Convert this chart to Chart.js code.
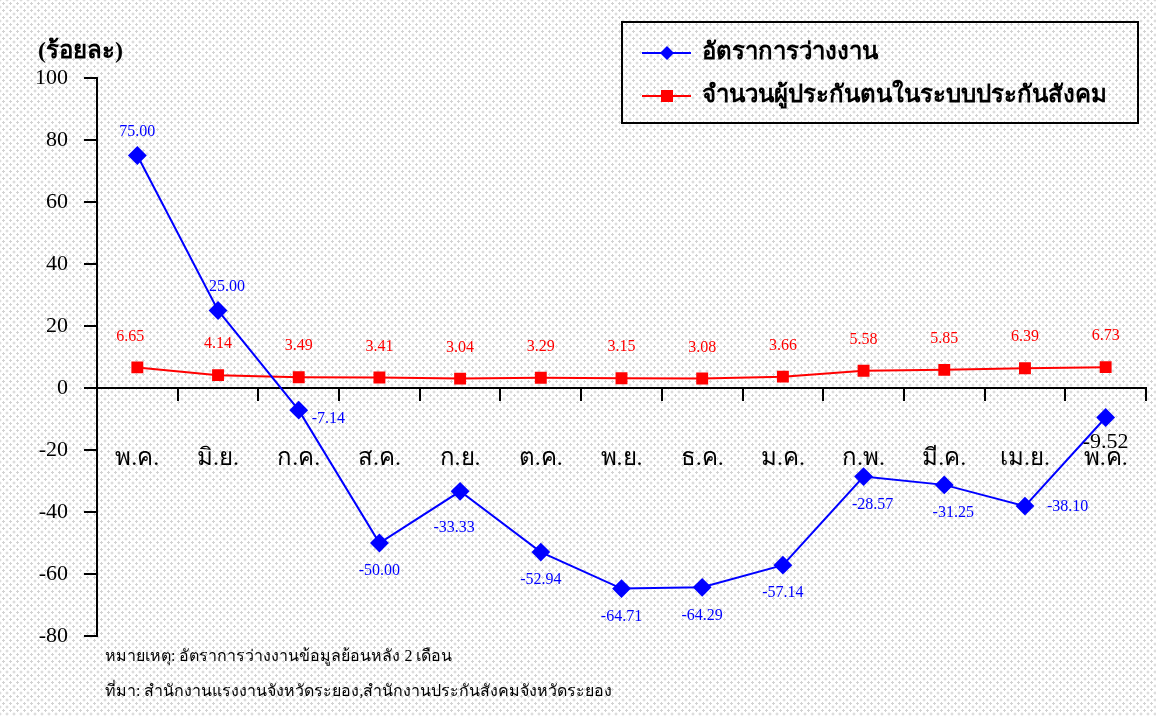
<!DOCTYPE html>
<html>
<head>
<meta charset="utf-8">
<script src="https://cdn.jsdelivr.net/npm/chart.js@4.4.1/dist/chart.umd.min.js"></script>
<style>
  html, body { margin: 0; padding: 0; }
  body {
    width: 1156px; height: 716px;
    background-color: #fff;
    background-image:
      radial-gradient(circle, #d2d2d2 1px, transparent 1.4px),
      radial-gradient(circle, #d2d2d2 1px, transparent 1.4px);
    background-size: 7px 7px, 7px 7px;
    background-position: 0 0, 3.5px 3.5px;
  }
  #wrap { position: relative; width: 1156px; height: 716px; }
</style>
</head>
<body>
<div id="wrap"><canvas id="myChart" width="1156" height="716"></canvas></div>
<script>
const months = ["พ.ค.", "มิ.ย.", "ก.ค.", "ส.ค.", "ก.ย.", "ต.ค.", "พ.ย.", "ธ.ค.", "ม.ค.", "ก.พ.", "มี.ค.", "เม.ย.", "พ.ค."];
const unemployment = [75.00, 25.00, -7.14, -50.00, -33.33, -52.94, -64.71, -64.29, -57.14, -28.57, -31.25, -38.10, -9.52];
const insured = [6.65, 4.14, 3.49, 3.41, 3.04, 3.29, 3.15, 3.08, 3.66, 5.58, 5.85, 6.39, 6.73];
const yMin = -80, yMax = 100, yStep = 20;

// where each blue value label sits
const unempLabelPos = ["above", "above", "right", "below", "below", "below", "below", "below", "below", "below", "below", "right", "below"];

const serif = "'Liberation Serif', 'Times New Roman', serif";

const labelPlugin = {
  id: "valueLabels",
  afterDatasetsDraw(chart) {
    const ctx = chart.ctx;
    ctx.save();
    ctx.textBaseline = "middle";
    // blue
    chart.getDatasetMeta(0).data.forEach((pt, i) => {
      const txt = unemployment[i].toFixed(2);
      const pos = unempLabelPos[i];
      ctx.font = "16px " + serif;
      ctx.fillStyle = "#0000ff";
      ctx.textAlign = "center";
      let x = pt.x, y = pt.y;
      if (pos === "above") { x += i === 1 ? 9 : 0; y -= 24; }
      else if (pos === "below") { y += 28; if (i === 9 || i === 10) x += 9; if (i === 4) { x -= 6; y += 8; } }
      else { ctx.textAlign = "left"; x += i === 11 ? 22 : 13; y += i === 11 ? 1 : 9; }
      if (i === unemployment.length - 1) {
        ctx.font = "22px " + serif;
        ctx.fillStyle = "#000";
        y -= 3;
      }
      ctx.fillText(txt, x, y);
    });
    // red
    chart.getDatasetMeta(1).data.forEach((pt, i) => {
      ctx.font = "16px " + serif;
      ctx.fillStyle = "#ff0000";
      ctx.textAlign = "center";
      ctx.fillText(insured[i].toFixed(2), pt.x - (i === 0 ? 7 : 0), pt.y - 31);
    });
    ctx.restore();
  },
  afterDraw(chart) {
    const ctx = chart.ctx;
    ctx.save();
    ctx.fillStyle = "#000";
    ctx.textBaseline = "middle";
    ctx.textAlign = "left";
    ctx.font = "bold 24px " + serif;
    ctx.fillText("(ร้อยละ)", 38, 52);

    // legend box
    ctx.strokeStyle = "#000";
    ctx.lineWidth = 2;
    ctx.strokeRect(622, 22, 516, 101);
    chart.data.datasets.forEach((ds, i) => {
      const y = 53 + i * 43;
      ctx.strokeStyle = ds.borderColor;
      ctx.lineWidth = 2;
      ctx.beginPath(); ctx.moveTo(642, y); ctx.lineTo(691, y); ctx.stroke();
      ctx.fillStyle = ds.borderColor;
      if (ds.pointStyle === "rectRot") {
        ctx.beginPath();
        ctx.moveTo(667, y - 7); ctx.lineTo(674, y); ctx.lineTo(667, y + 7); ctx.lineTo(660, y);
        ctx.closePath(); ctx.fill();
      } else {
        ctx.fillRect(661, y - 6, 12, 12);
      }
      ctx.fillStyle = "#000";
      ctx.font = "bold 24px " + serif;
      ctx.fillText(ds.label, 702, y);
    });

    ctx.font = "16px " + serif;
    ctx.fillText("หมายเหตุ: อัตราการว่างงานข้อมูลย้อนหลัง 2 เดือน", 105, 657);
    ctx.fillText("ที่มา: สำนักงานแรงงานจังหวัดระยอง,สำนักงานประกันสังคมจังหวัดระยอง", 105, 692);
    ctx.restore();
  }
};

const data = {
  labels: months,
  datasets: [
    {
      label: "อัตราการว่างงาน",
      data: unemployment,
      borderColor: "#0000ff",
      backgroundColor: "#0000ff",
      borderWidth: 2,
      pointStyle: "rectRot",
      pointRadius: 8,
      pointHoverRadius: 8,
      tension: 0,
    },
    {
      label: "จำนวนผู้ประกันตนในระบบประกันสังคม",
      data: insured,
      borderColor: "#ff0000",
      backgroundColor: "#ff0000",
      borderWidth: 2,
      pointStyle: "rect",
      pointRadius: 7,
      pointHoverRadius: 7,
      tension: 0,
    },
  ],
};

const config = {
  type: "line",
  data: data,
  plugins: [labelPlugin],
  options: {
    responsive: false,
    animation: false,
    events: [],
    layout: { padding: { left: 0, top: 78, right: 9, bottom: 80 } },
    plugins: { legend: { display: false }, tooltip: { enabled: false } },
    scales: {
      // month labels (invisible long ticks push them down below the axis)
      x: {
        position: { y: 0 },
        offset: true,
        grid: { drawOnChartArea: false, drawTicks: true, tickLength: 56, color: "rgba(0,0,0,0)" },
        border: { display: false },
        ticks: { color: "#000", font: { family: serif, size: 24 }, padding: 0, maxRotation: 0, autoSkip: false },
      },
      // axis line with tick marks between months
      x2: {
        position: { y: 0 },
        offset: true,
        grid: { offset: true, drawOnChartArea: false, tickLength: 12, color: "#000", lineWidth: 2 },
        border: { display: true, color: "#000", width: 2 },
        ticks: { display: false },
      },
      y: {
        min: yMin,
        max: yMax,
        afterFit(scale) { scale.width = 97; },
        grid: { drawOnChartArea: false, tickLength: 13, color: "#000", lineWidth: 2 },
        border: { display: true, color: "#000", width: 2 },
        ticks: { stepSize: yStep, color: "#000", font: { family: serif, size: 22 }, padding: 16 },
      },
    },
  },
};

const myChart = new Chart(document.getElementById("myChart"), config);
</script>
</body>
</html>
